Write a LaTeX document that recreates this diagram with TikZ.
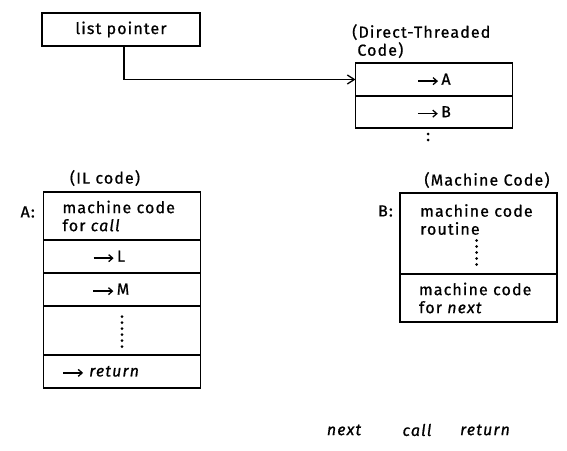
\documentclass[tikz,border=0pt]{standalone}
\usepackage{fontspec}
\setmainfont[LetterSpace=7,FakeBold=0.8]{Fira Sans}
\usetikzlibrary{positioning,calc,arrows.meta}
\newcommand{\ptr}{\tikz[baseline=-3.6pt]\draw[-{Straight Barb[length=4pt,width=7pt]}, line width=1.3pt] (0pt,0pt) -- (20pt,0pt);}

\begin{document}
\begin{tikzpicture}[
        x=1pt, y=-1pt,
        cell/.style={
                rectangle,
                draw,
                line width=1.4pt,
                outer sep=0pt,
                minimum width=157pt,
                inner sep=0pt,
                font=\fontsize{16}{18}\selectfont
            },
        leftcell/.style={
                cell,
                text width=119pt,
                inner xsep=19pt,
                align=left
            },
        txt/.style={inner sep=0pt, font=\fontsize{16}{18}\selectfont},
        kw/.style={txt, font=\fontsize{16}{18}\selectfont\itshape},
        dotcol/.style={line width=3pt, line cap=round, dash pattern=on 0pt off 6pt},
        arrow/.style={-{Straight Barb[length=7pt,width=9pt]}, line width=1.3pt}
    ]
    \useasboundingbox (0,0) rectangle (567,450);

    \node[cell, minimum width=158pt, minimum height=33pt] (lp) at (121,29.5) {list pointer};

    % direct-threaded code
    \node[txt, anchor=north west, align=left] (dtLabel) at (352,24) {(Direct-Threaded\\\phantom{(}Code)};
    \node[cell, minimum height=33pt] (dtA) at (434,79.5) {\ptr\,A};
    \node[cell, minimum height=32pt, below=0pt of dtA] (dtB) {\ptr\,B};
    \draw[dotcol] ($(dtB.south)+(-6,6)$) -- ($(dtB.south)+(-6,13)$);

    \draw[arrow] ($(lp.south)+(3,0)$) |- (dtA.west);

    % IL code
    \node[txt] (ilLabel) at (105,178) {(IL code)};
    \node[txt, anchor=east] (aLabel) at (35,212) {A:};
    \node[leftcell, minimum height=48pt] (ilCall) at (122,216) {machine code\\for \textit{call}};
    \node[cell, minimum height=33pt, below=0pt of ilCall] (ilL) {\ptr\,L\hspace*{26pt}};
    \node[cell, minimum height=33pt, below=0pt of ilL] (ilM) {\ptr\,M\hspace*{22pt}};
    \node[cell, minimum height=49pt, below=0pt of ilM] (ilDots) {};
    \node[leftcell, minimum height=33pt, below=0pt of ilDots] (ilRet) {\ptr\ \textit{return}};
    \draw[dotcol] ($(ilDots.center)+(0,-14)$) -- ($(ilDots.center)+(0,17)$);

    % machine code
    \node[txt] (mcLabel) at (487,180) {(Machine Code)};
    \node[txt, anchor=east] (bLabel) at (393,211) {B:};
    \node[cell, minimum height=81pt] (mcRoutine) at (478.5,233.5) {};
    \node[txt, anchor=north west, align=left] (mcText) at (420,204) {machine code\\routine};
    \draw[dotcol] ($(mcRoutine.center)+(-2,7)$) -- ($(mcRoutine.center)+(-2,32)$);
    \node[leftcell, minimum height=48pt, below=0pt of mcRoutine] (mcNext) {machine code\\for \textit{next}};

    \node[kw] (kwNext) at (344,430) {next};
    \node[kw] (kwCall) at (417,430) {call};
    \node[kw] (kwReturn) at (485,430) {return};
\end{tikzpicture}
\end{document}
